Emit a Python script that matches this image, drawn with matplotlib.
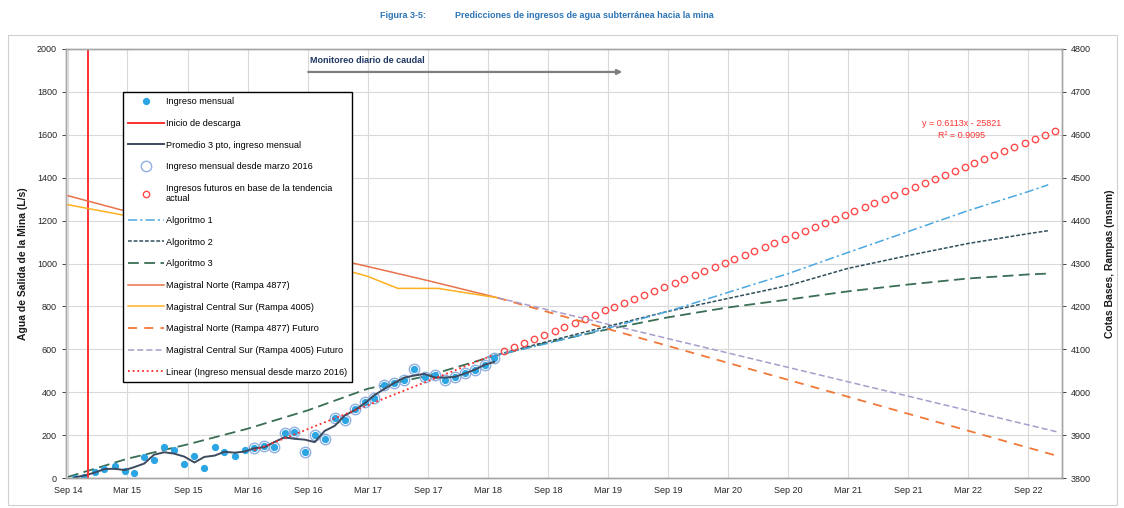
import matplotlib
matplotlib.use("Agg")
import matplotlib.pyplot as plt
import numpy as np
import pandas as pd
from matplotlib.patches import Rectangle

plt.rcParams['font.family'] = ['Liberation Sans', 'DejaVu Sans']

# ---------------- data ----------------
# Monthly mine inflow (L/s), Sep 2014 .. Mar 2018
inflow_start = '2014-09-01'
inflow = [0, 6, 29, 40, 56, 33, 22, 96, 84, 146, 130, 65, 104, 48, 143, 122, 102,
          130, 138, 149, 143, 211, 215, 122, 200, 180, 278, 272, 324, 353, 372, 432,
          442, 456, 507, 470, 479, 456, 470, 488, 502, 525, 558]
trend_from = '2016-03-01'           # monthly inflow since March 2016
discharge_start = '2014-11-01'      # start of dewatering

# Linear trend of inflow since March 2016 (x = Excel date serial)
trend_slope = 0.6113
trend_intercept = -25821
trend_r2 = 0.9095
future_start = '2018-04-01'
future_end = '2022-11-01'

# Prediction algorithms (L/s), semiannual knots
alg_dates_future = ['2018-03-01', '2018-09-01', '2019-03-01', '2019-09-01', '2020-03-01',
                    '2020-09-01', '2021-03-01', '2021-09-01', '2022-03-01', '2022-09-01',
                    '2022-11-01']
alg1 = [563, 628, 698, 777, 865, 953, 1051, 1149, 1246, 1335, 1367]
alg2 = [563, 637, 707, 777, 837, 897, 977, 1037, 1093, 1139, 1153]
alg3_dates = ['2014-09-01', '2015-03-01', '2015-09-01', '2016-03-01', '2016-09-01',
              '2017-03-01', '2017-09-01'] + alg_dates_future
alg3 = [5, 90, 157, 230, 316, 416, 477, 560, 632, 693, 749, 795, 832, 870, 902, 930,
        949, 953]

# Ramp elevations (msnm)
norte_dates = ['2014-09-01', '2015-03-01', '2015-09-01', '2016-03-01', '2016-09-01',
               '2017-03-01', '2017-09-01', '2018-04-01']
norte = [4458, 4421, 4388, 4358, 4325, 4293, 4260, 4220]
sur_dates = ['2014-09-01', '2015-03-01', '2015-09-01', '2016-03-01', '2016-09-01',
             '2017-03-01', '2017-06-01', '2017-10-01', '2018-04-01']
sur = [4437, 4411, 4374, 4342, 4309, 4270, 4242, 4242, 4220]
ramp_future_dates = ['2018-04-01', '2022-12-01']
norte_future = [4220, 3851]
sur_future = [4220, 3907]

# Daily flow monitoring period
monitor_span = ['2016-09-01', '2019-04-15']

x_ticks = pd.date_range('2014-09-01', '2022-09-01', freq='6MS')

# ---------------- derived series ----------------
inflow_dates = pd.date_range(inflow_start, periods=len(inflow), freq='MS') + pd.Timedelta(days=20)
inflow_s = pd.Series(inflow, index=inflow_dates, dtype=float)
moving_avg = inflow_s.rolling(3, center=True, min_periods=1).mean()
recent = inflow_s[inflow_s.index >= pd.Timestamp(trend_from)]

def excel_serial(d):
    return (pd.DatetimeIndex(d) - pd.Timestamp('1899-12-30')).days.values

def trend(d):
    return trend_slope * excel_serial(d) + trend_intercept

future_dates = pd.date_range(future_start, future_end, freq='MS') + pd.Timedelta(days=20)
trend_dates = recent.index

# ---------------- figure ----------------
W, H = 1124, 508
fig = plt.figure(figsize=(W / 100, H / 100), dpi=100)
fig.patches.append(Rectangle((8 / W, 3 / H), 1109 / W, 470 / H, transform=fig.transFigure,
                             fill=False, edgecolor='#D0D0D0', lw=0.8))
ax = fig.add_axes([66 / W, 30 / H, 996 / W, 429 / H])
ax2 = ax.twinx()

fig.text(380 / W, 1 - 16 / H, 'Figura 3-5:', color='#2E75B6', fontsize=6.5,
         weight='bold', va='center')
fig.text(455 / W, 1 - 16 / H, 'Predicciones de ingresos de agua subterránea hacia la mina',
         color='#2E75B6', fontsize=6.5, weight='bold', va='center')

# left axis series
h_alg3, = ax.plot(pd.DatetimeIndex(alg3_dates), alg3, color='#3A6E55', lw=1.3,
                  dashes=(6, 3), label='Algoritmo 3')
h_alg2, = ax.plot(pd.DatetimeIndex(alg_dates_future), alg2, color='#2F4F5C', lw=1.1,
                  dashes=(2.5, 1.2), label='Algoritmo 2')
h_alg1, = ax.plot(pd.DatetimeIndex(alg_dates_future), alg1, color='#4AA8E0', lw=1.1,
                  dashes=(6, 2, 1.5, 2), label='Algoritmo 1')
h_fut, = ax.plot(future_dates, trend(future_dates), ls='none', marker='o', ms=4.6,
                 mfc='none', mec='#FF4B4B', mew=1.0,
                 label='Ingresos futuros en base de la tendencia\nactual')
h_pts, = ax.plot(inflow_s.index, inflow_s.values, ls='none', marker='o', ms=4.2,
                 color='#2BA5E3', label='Ingreso mensual')
h_rec, = ax.plot(recent.index, recent.values, ls='none', marker='o', ms=7.5,
                 mfc='none', mec='#8FB0E0', mew=1.0,
                 label='Ingreso mensual desde marzo 2016')
h_avg, = ax.plot(moving_avg.index, moving_avg.values, color='#3E4A5E', lw=1.4,
                 label='Promedio 3 pto, ingreso mensual')
h_lin, = ax.plot(trend_dates, trend(trend_dates), color='#FF2A2A', lw=1.3,
                 ls=(0, (1, 1.6)), label='Linear (Ingreso mensual desde marzo 2016)')
h_red = ax.axvline(pd.Timestamp(discharge_start), color='#FF3030', lw=1.4,
                   label='Inicio de descarga')

# right axis series (ramps)
h_n, = ax2.plot(pd.DatetimeIndex(norte_dates), norte, color='#E8724A', lw=1.1,
                label='Magistral Norte (Rampa 4877)')
h_s, = ax2.plot(pd.DatetimeIndex(sur_dates), sur, color='#FFB020', lw=1.1,
                label='Magistral Central Sur (Rampa 4005)')
h_nf, = ax2.plot(pd.DatetimeIndex(ramp_future_dates), norte_future, color='#F07838',
                 lw=1.3, dashes=(5, 4), label='Magistral Norte (Rampa 4877) Futuro')
h_sf, = ax2.plot(pd.DatetimeIndex(ramp_future_dates), sur_future, color='#A99CCB',
                 lw=1.1, dashes=(4, 2), label='Magistral Central Sur (Rampa 4005) Futuro')

# monitoring arrow and trend equation
ax.annotate('', xy=(pd.Timestamp(monitor_span[1]), 1893),
            xytext=(pd.Timestamp(monitor_span[0]), 1893),
            arrowprops=dict(arrowstyle='-|>', color='#7F7F7F', lw=1.6,
                            mutation_scale=7, shrinkA=0, shrinkB=0))
ax.text(pd.Timestamp(monitor_span[0]) + pd.Timedelta(days=5), 1948,
        'Monitoreo diario de caudal', fontsize=6.5, weight='bold', color='#1F3864',
        va='center', ha='left')
ax.text(pd.Timestamp('2022-02-10'), 1652, f'y = {trend_slope}x - {-trend_intercept}',
        color='#FF3333', fontsize=6.5, ha='center', va='center')
ax.text(pd.Timestamp('2022-02-10'), 1598, f'R² = {trend_r2}', color='#FF3333',
        fontsize=6.5, ha='center', va='center')

# axes
ax.set_xlim(pd.Timestamp('2014-08-26'), pd.Timestamp('2022-12-13'))
ax.set_ylim(0, 2000)
ax.set_yticks(np.arange(0, 2001, 200))
ax2.set_ylim(3800, 4800)
ax2.set_yticks(np.arange(3800, 4801, 100))
ax.set_xticks(x_ticks)
ax.set_xticklabels([d.strftime('%b %y') for d in x_ticks])
ax.grid(True, color='#D9D9D9', lw=0.8)
ax.set_axisbelow(True)
for a in (ax, ax2):
    for s in a.spines.values():
        s.set_color('#A6A6A6')
        s.set_linewidth(1.0)
ax.tick_params(axis='both', labelsize=6.5, colors='#262626', length=3, width=0.6)
ax.tick_params(axis='x', length=0, pad=6)
ax2.tick_params(axis='y', labelsize=6.5, colors='#262626', length=3, width=0.6)
ax.set_ylabel('Agua de Salida de la Mina (L/s)', fontsize=7.5, weight='bold', color='#1A1A1A')
ax.yaxis.set_label_coords(-0.038, 0.5)
ax2.set_ylabel('Cotas Bases, Rampas (msnm)', fontsize=7.5, weight='bold', color='#1A1A1A',
               rotation=90)
ax2.yaxis.set_label_coords(1.043, 0.5)

handles = [h_pts, h_red, h_avg, h_rec, h_fut, h_alg1, h_alg2, h_alg3, h_n, h_s, h_nf,
           h_sf, h_lin]
leg = ax2.legend(handles=handles, labels=[h.get_label() for h in handles],
                 loc='upper left', bbox_to_anchor=(0.057, 0.900), fontsize=6.6,
                 labelspacing=1.38, handlelength=3.9, handletextpad=0.2, borderpad=0.6,
                 borderaxespad=0, fancybox=False, framealpha=1, edgecolor='black')
leg.get_frame().set_linewidth(1.0)
leg.set_zorder(10)

fig.savefig('out.png', dpi=100)
